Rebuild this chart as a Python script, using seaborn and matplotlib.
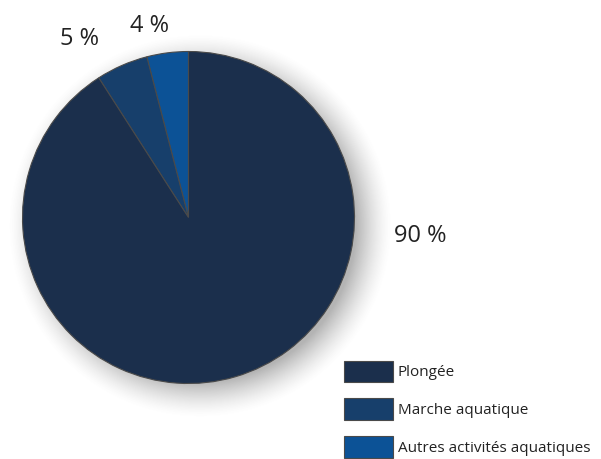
import numpy as np
import matplotlib
matplotlib.use("Agg")
import matplotlib.pyplot as plt
import seaborn as sns

categories = ["Autres activités aquatiques", "Marche aquatique", "Plongée"]
values = [4, 5, 90]
value_labels = ["4 %", "5 %", "90 %"]
legend_order = ["Plongée", "Marche aquatique", "Autres activités aquatiques"]

colors = {"Plongée": "#1b2f4c", "Marche aquatique": "#173f6b", "Autres activités aquatiques": "#0c5296"}

sns.set_theme(style="white")
plt.rcParams["font.family"] = ["Open Sans", "DejaVu Sans"]

W, H = 601, 459
fig = plt.figure(figsize=(W / 100, H / 100), dpi=100)
cx, cy, r = 188.5, 217.5, 166
ax = fig.add_axes([(cx - r) / W, (H - cy - r) / H, 2 * r / W, 2 * r / H])
ax.axis("off")

# soft shadow behind the pie
gx = np.linspace(-1.4, 1.4, 500)
gy = np.linspace(-1.4, 1.4, 500)
XX, YY = np.meshgrid(gx, gy)
d = np.sqrt((XX - 0.07) ** 2 + (YY + 0.05) ** 2)
alpha = np.clip((1.16 - d) / 0.22, 0, 1) ** 1.5 * 0.45
img = np.zeros((500, 500, 4))
img[..., :3] = 0.35
img[..., 3] = alpha
ax.imshow(img, extent=[-1.4, 1.4, -1.4, 1.4], origin="lower", zorder=0,
          interpolation="bilinear", clip_on=False)

wedges, _ = ax.pie(values, colors=[colors[c] for c in categories], startangle=90,
                   counterclock=True, radius=1,
                   wedgeprops=dict(edgecolor="#4a4a4a", linewidth=0.8, zorder=2))
for w in wedges:
    w.set_clip_on(False)
ax.set_xlim(-1, 1)
ax.set_ylim(-1, 1)
ax.set_aspect("equal")
ax.axis("off")

label_pos = [(-0.235, 1.154), (-0.654, 1.075), (1.395, -0.11)]
for txt, (x, y) in zip(value_labels, label_pos):
    ax.text(x, y, txt, ha="center", va="center", fontsize=17, color="#222222", clip_on=False)

handle_map = dict(zip(categories, wedges))
leg = fig.legend([handle_map[c] for c in legend_order], legend_order,
                 loc="upper left", bbox_to_anchor=(333 / W, 1 - 350 / H),
                 frameon=False, fontsize=11, handlelength=3.25, handleheight=1.8,
                 labelspacing=1.05, handletextpad=0.3, borderpad=0.2)
for t in leg.get_texts():
    t.set_color("#222222")

fig.savefig("out.png", dpi=100, facecolor="white")
